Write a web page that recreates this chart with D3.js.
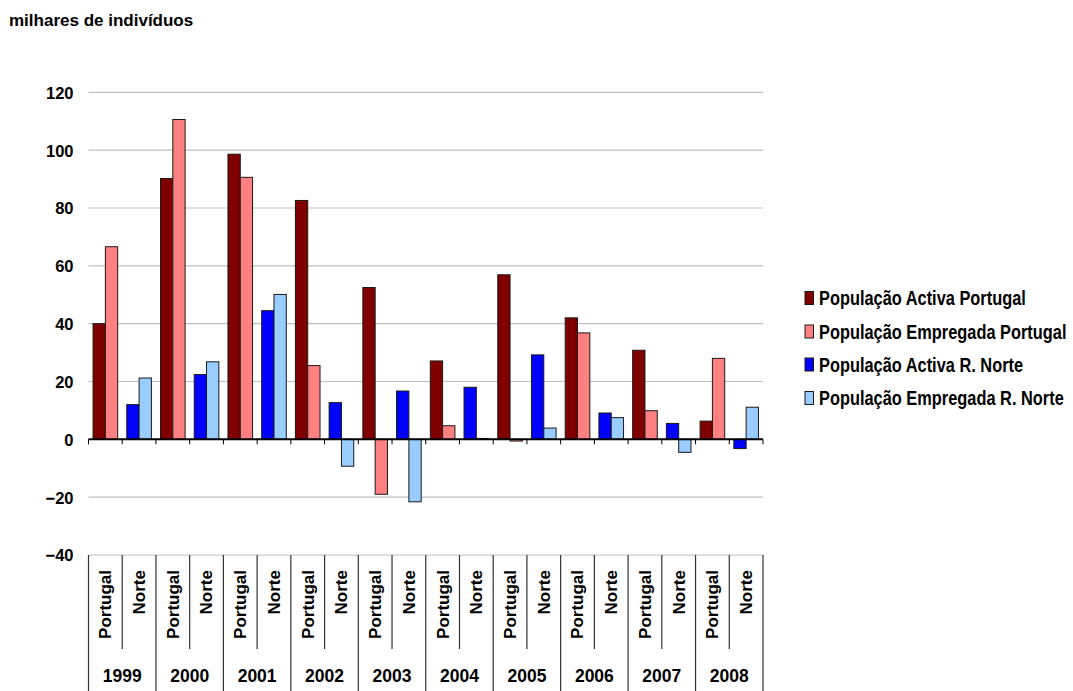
<!DOCTYPE html>
<html>
<head>
<meta charset="utf-8">
<script src="https://cdn.jsdelivr.net/npm/d3@7"></script>
<style>
  html, body { margin: 0; padding: 0; background: #fff; }
  svg { display: block; font-family: "Liberation Sans", Arial, sans-serif; }
</style>
</head>
<body>
<svg id="chart" width="1073" height="691"></svg>
<script>
// Variação anual (milhares de indivíduos)
const years = ["1999", "2000", "2001", "2002", "2003", "2004", "2005", "2006", "2007", "2008"];
const regions = ["Portugal", "Norte"];
const activaPortugal    = [40.0, 90.2, 98.6, 82.6, 52.5, 27.1, 56.9, 42.0, 30.8, 6.3];
const empregadaPortugal = [66.6, 110.6, 90.6, 25.5, -19.0, 4.7, -0.6, 36.8, 9.9, 28.0];
const activaNorte       = [12.0, 22.4, 44.5, 12.7, 16.7, 18.0, 29.2, 9.1, 5.5, -3.2];
const empregadaNorte    = [21.2, 26.8, 50.1, -9.3, -21.6, 0.3, 3.9, 7.5, -4.5, 11.1];
const yTicks = [-40, -20, 0, 20, 40, 60, 80, 100, 120];
const seriesNames = [
  "População Activa Portugal",
  "População Empregada Portugal",
  "População Activa R. Norte",
  "População Empregada R. Norte"
];
const seriesColors = ["#800000", "#FF8080", "#0000FF", "#99CCFF"];

(function draw() {
  const svg = d3.select("#chart");

  const plotLeft = 88.5, plotRight = 763, plotTop = 92.3, plotBottom = 555;

  // one slot per (year, region)
  const slots = [];
  years.forEach((yr, i) => regions.forEach(r => slots.push({ year: yr, region: r, i })));
  const slotKey = d => d.year + "|" + d.region;

  const x = d3.scaleBand().domain(slots.map(slotKey)).range([plotLeft, plotRight]).paddingInner(0).paddingOuter(0);
  const xi = d3.scaleBand().domain([0, 1]).range([0, x.bandwidth()]).paddingInner(0).paddingOuter(0.37);
  const y = d3.scaleLinear().domain([-40, 120]).range([plotBottom, plotTop]);

  // title
  svg.append("text")
    .attr("x", 9).attr("y", 26)
    .attr("font-size", 17).attr("font-weight", "bold")
    .attr("fill", "#000")
    .text("milhares de indivíduos");

  // gridlines
  svg.append("g")
    .selectAll("line").data(yTicks.filter(t => t !== 0)).join("line")
    .attr("x1", plotLeft).attr("x2", plotRight)
    .attr("y1", d => y(d)).attr("y2", d => y(d))
    .attr("stroke", "#c0c0c0").attr("stroke-width", 1.2);

  // y axis labels
  const yAxis = d3.axisLeft(y).tickValues(yTicks).tickSize(0).tickPadding(0).tickFormat(d3.format("d"));
  const gy = svg.append("g").attr("transform", `translate(${plotLeft - 15},0)`).call(yAxis);
  gy.select(".domain").remove();
  gy.selectAll("text")
    .attr("font-size", 16.5).attr("font-weight", "bold")
    .attr("font-family", "Liberation Sans, Arial, sans-serif")
    .attr("fill", "#000").attr("dy", "0.36em");

  // bars
  const barData = [];
  years.forEach((yr, i) => {
    barData.push({ key: yr + "|Portugal", k: 0, v: activaPortugal[i], c: seriesColors[0] });
    barData.push({ key: yr + "|Portugal", k: 1, v: empregadaPortugal[i], c: seriesColors[1] });
    barData.push({ key: yr + "|Norte", k: 0, v: activaNorte[i], c: seriesColors[2] });
    barData.push({ key: yr + "|Norte", k: 1, v: empregadaNorte[i], c: seriesColors[3] });
  });

  svg.append("g")
    .selectAll("rect").data(barData).join("rect")
    .attr("x", d => x(d.key) + xi(d.k))
    .attr("width", xi.bandwidth())
    .attr("y", d => y(Math.max(0, d.v)))
    .attr("height", d => Math.abs(y(d.v) - y(0)))
    .attr("fill", d => d.c)
    .attr("stroke", "#1a1a1a").attr("stroke-width", 1);

  // zero axis line and ticks
  const boundaries = d3.range(slots.length + 1).map(i => plotLeft + i * x.step());
  svg.append("g")
    .selectAll("line").data(boundaries).join("line")
    .attr("x1", d => d).attr("x2", d => d)
    .attr("y1", y(0)).attr("y2", y(0) + 5)
    .attr("stroke", "#000").attr("stroke-width", 1);
  svg.append("line")
    .attr("x1", plotLeft).attr("x2", plotRight)
    .attr("y1", y(0)).attr("y2", y(0))
    .attr("stroke", "#000").attr("stroke-width", 2);

  // category table below the plot
  const tableBottom = 691, innerBottom = 649;
  svg.append("g")
    .selectAll("line").data(boundaries).join("line")
    .attr("x1", d => d).attr("x2", d => d)
    .attr("y1", plotBottom)
    .attr("y2", (d, i) => i % 2 === 0 ? tableBottom : innerBottom)
    .attr("stroke", "#333").attr("stroke-width", 1.2);

  // region labels (rotated)
  svg.append("g")
    .selectAll("text").data(slots).join("text")
    .attr("transform", d => `translate(${x(slotKey(d)) + x.bandwidth() / 2},570) rotate(-90)`)
    .attr("text-anchor", "end")
    .attr("dy", "0.35em")
    .attr("font-size", 17).attr("font-weight", "bold")
    .attr("fill", "#000")
    .text(d => d.region);

  // year labels
  svg.append("g")
    .selectAll("text").data(years).join("text")
    .attr("x", d => x(d + "|Norte"))
    .attr("y", 682)
    .attr("text-anchor", "middle")
    .attr("font-size", 17.5).attr("font-weight", "bold")
    .attr("fill", "#000")
    .text(d => d);

  // legend (condensed bold type)
  const legendBaselines = [305, 338.5, 371.5, 405];
  const lg = svg.append("g");
  seriesNames.forEach((name, i) => {
    lg.append("rect")
      .attr("x", 805).attr("y", legendBaselines[i] - 13.5)
      .attr("width", 8.5).attr("height", 13)
      .attr("fill", seriesColors[i])
      .attr("stroke", "#1a1a1a").attr("stroke-width", 1);
    lg.append("text")
      .attr("transform", `translate(819,${legendBaselines[i]}) scale(0.84,1)`)
      .attr("font-size", 19.5).attr("font-weight", "bold")
      .attr("fill", "#000")
      .text(name);
  });
})();
</script>
</body>
</html>
